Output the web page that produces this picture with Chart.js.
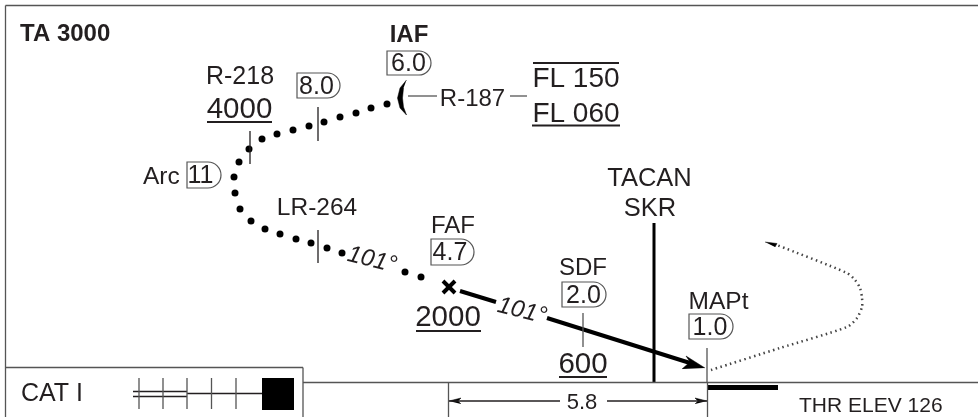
<!DOCTYPE html>
<html><head><meta charset="utf-8">
<style>html,body{margin:0;padding:0;background:#fff}canvas{display:block}</style>
<script src="https://cdn.jsdelivr.net/npm/chart.js@4"></script>
</head><body><canvas id="c" width="978" height="417"></canvas>
<script>
const dotX=[387,371,356,340,324,309,293,277,262,249,239,234,235,240,251,265,280,296,311,327,342,405,421];
const dotY=[104,108,113,117,122,126,130,134,139,149,162,177,193,209,221,229,234,239,243,248,253,272,277];
const missedX=[711,780,847,857,862,862,860,855,847,777];
const missedY=[370,348,327,318,307,298,288,280,273,245];
const thinLines=[[5.5,5.5,978,5.5],[5.5,5.5,5.5,417],[5.5,367.5,303,367.5],[303,367.5,303,417],[303,382.5,978,382.5],
 [448.5,383,448.5,417],[707.5,383,707.5,417],[707,348,707,383],[583,313,583,347],
 [318,107,318,141],[250,131,250,164],[318,230,318,263],[408,96,437,96],[510,96,527,96],
 [139,378,139,409],[163,378,163,409],[187,378,187,409],[211.5,378,211.5,409],[236,378,236,409],
 [133,391.5,187,391.5],[133,396.5,187,396.5],[187,393.5,262,393.5],[449,401,560,401],[607,401,707,401]];
const ruleLines=[[207,122,272,122],[533,63,619,63],[532,125.5,620,125.5],[416,331,481,331],[559,377,607,377]];
const thickLines=[[460,291,496,302,4],[547,318,690,363,4],[654,223,654,383,3],[707,387.5,778,387.5,5],[262,394,294,394,32]];
const shapes=[
 [[705,368],[686,356],[690,362],[682,369]],
 [[449,401],[461,398],[458,401],[461,404]],
 [[707,401],[695,398],[698,401],[695,404]],
 [[765,242],[777,243.5],[775,247]],
 [[406.5,80],[400,88],[397.5,98],[400,108],[406.5,115],[403.5,107],[402.5,98],[403.5,88]]
];
const badges=[["6.0",387,51,431,75,408.5],["8.0",297,73,340,98,316.5],["11",187,162,221,188,200.5],["4.7",431,239,474,265,450],["2.0",562,282,606,307,583.5],["1.0",689,314,733,339,710]];
const labels=[["TA 3000",20,34,"bold 24px","left"],["IAF",409,35,"bold 24px","center"],["R-218",240,77,"25px","center"],
 ["4000",239.5,110,"29.5px","center"],["R-187",472.5,99,"24px","center"],["FL 150",576,79,"28px","center"],["FL 060",576,114,"28px","center"],
 ["Arc",143,177,"24.5px","left"],["LR-264",317,208,"24.5px","center"],["FAF",453,226,"24px","center"],["2000",448,318,"29.5px","center"],
 ["SDF",583,268,"24px","center"],["600",583,365,"29.5px","center"],["TACAN",649.5,179,"25.5px","center"],["SKR",650,209,"25.5px","center"],
 ["MAPt",718.5,302,"24.5px","center"],["CAT I",21,394,"25px","left"],["5.8",582,403,"22px","center"],["THR ELEV 126",799,406,"21px","left"]];
const tilted=[["101°",372,260],["101°",522,311]];
const fafPoint=[449,287];
const ink="#231f20", frame="#555555";
const ds=[];
thinLines.forEach(s=>ds.push({type:"line",data:[{x:s[0],y:s[1]},{x:s[2],y:s[3]}],borderColor:s[1]===s[3]&&s[1]>385||s[0]===s[2]&&s[1]<300&&s[1]>10?ink:frame,borderWidth:1.3,pointRadius:0}));
ruleLines.forEach(s=>ds.push({type:"line",data:[{x:s[0],y:s[1]},{x:s[2],y:s[3]}],borderColor:ink,borderWidth:2,pointRadius:0}));
thickLines.forEach(s=>ds.push({type:"line",data:[{x:s[0],y:s[1]},{x:s[2],y:s[3]}],borderColor:"#000",borderWidth:s[4],pointRadius:0}));
shapes.forEach(p=>ds.push({type:"line",data:p.map(q=>({x:q[0],y:q[1]})),borderColor:"#000",borderWidth:0.5,backgroundColor:"#000",fill:"shape",pointRadius:0,tension:0}));
ds.push({type:"scatter",data:dotX.map((x,i)=>({x,y:dotY[i]})),pointRadius:3.5,pointBackgroundColor:"#000",pointBorderWidth:0});
ds.push({type:"line",data:missedX.map((x,i)=>({x,y:missedY[i]})),borderColor:"#444",borderWidth:2.5,borderDash:[1.5,3.5],pointRadius:0,tension:0.25});
ds.push({type:"scatter",data:[{x:fafPoint[0],y:fafPoint[1]}],pointStyle:"crossRot",pointRadius:8.5,pointBorderColor:"#000",pointBorderWidth:4});
const text={id:"text",afterDraw(ch){
 const c=ch.ctx,X=ch.scales.x,Y=ch.scales.y,F='"Liberation Sans",Arial,sans-serif';
 c.save();c.fillStyle=ink;c.textBaseline="middle";
 labels.forEach(l=>{c.font=l[3]+" "+F;c.textAlign=l[4];c.fillText(l[0],X.getPixelForValue(l[1]),Y.getPixelForValue(l[2]));});
 c.font="italic 24px "+F;c.textAlign="center";
 tilted.forEach(l=>{c.save();c.translate(X.getPixelForValue(l[1]),Y.getPixelForValue(l[2]));c.rotate(14*Math.PI/180);c.fillText(l[0],0,0);c.restore();});
 badges.forEach(b=>{const l=X.getPixelForValue(b[1]),t=Y.getPixelForValue(b[2]),r=X.getPixelForValue(b[3]),bt=Y.getPixelForValue(b[4]),h=(bt-t)/2;
  c.beginPath();c.moveTo(l,t);c.lineTo(r-h,t);c.arc(r-h,t+h,h,-Math.PI/2,Math.PI/2);c.lineTo(l,bt);c.closePath();c.strokeStyle=frame;c.lineWidth=1.2;c.stroke();
  c.font="25px "+F;c.textAlign="center";c.fillStyle=ink;c.fillText(b[0],X.getPixelForValue(b[5]),t+h+1.5);});
 c.restore();
}};
new Chart(document.getElementById("c"),{type:"scatter",data:{datasets:ds},plugins:[text],options:{
 responsive:false,animation:false,layout:{padding:0,autoPadding:false},
 plugins:{legend:{display:false},tooltip:{enabled:false}},
 scales:{x:{type:"linear",display:false,min:0,max:978},y:{type:"linear",display:false,min:0,max:417,reverse:true}}
}});
</script></body></html>
